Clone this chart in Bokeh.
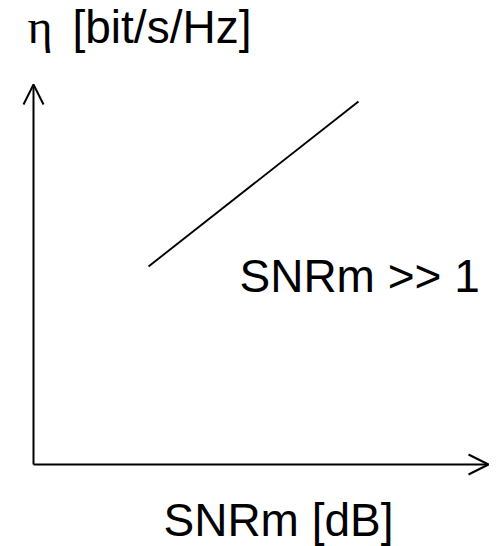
from bokeh.plotting import figure
from bokeh.models import ColumnDataSource, Arrow, OpenHead, Range1d
from bokeh.core.properties import value
from bokeh.embed import file_html
from bokeh.resources import INLINE

# Sketch of spectral efficiency vs. SNR in the high-SNR regime
# (coordinates measured from the axes origin)
axis_x_start = [0, 0]
axis_y_start = [0, 0]
axis_x_end = [455, 0]
axis_y_end = [0, 380]

# high-SNR asymptote: eta grows linearly with SNRm in dB
snr_db = [115, 325]
eta = [198, 363]

y_label_sym = "η"
y_label_unit = "[bit/s/Hz]"
x_label = "SNRm [dB]"
regime_label = "SNRm >> 1"

p = figure(width=496, height=546, output_backend="svg", toolbar_location=None,
           x_range=Range1d(-33, 463), y_range=Range1d(-82, 464),
           min_border=0, outline_line_color=None)
p.axis.visible = False
p.grid.visible = False
p.background_fill_color = "white"
p.border_fill_color = "white"

axes_src = ColumnDataSource(dict(x0=axis_x_start, y0=axis_y_start,
                                 x1=axis_x_end, y1=axis_y_end))
p.add_layout(Arrow(end=OpenHead(size=20, line_width=2, line_color="black"),
                   x_start="x0", y_start="y0", x_end="x1", y_end="y1",
                   line_width=2, line_color="black", source=axes_src))

p.line(snr_db, eta, line_width=1.9, line_color="black")

sans = value("Liberation Sans")
size = value("46px")
p.text(x=[-6], y=[438], text=[y_label_sym], text_font=value("Liberation Serif"),
       text_font_size=value("48px"), text_baseline="alphabetic", text_align="left",
       text_color="black")
p.text(x=[39], y=[438], text=[y_label_unit], text_font=sans,
       text_font_size=size, text_baseline="alphabetic", text_align="left",
       text_color="black")
p.text(x=[206], y=[189], text=[regime_label], text_font=sans,
       text_font_size=size, text_baseline="alphabetic", text_align="left",
       text_color="black")
p.text(x=[130], y=[-55], text=[x_label], text_font=sans,
       text_font_size=size, text_baseline="alphabetic", text_align="left",
       text_color="black")

open("out.html", "w").write(file_html(p, INLINE))
